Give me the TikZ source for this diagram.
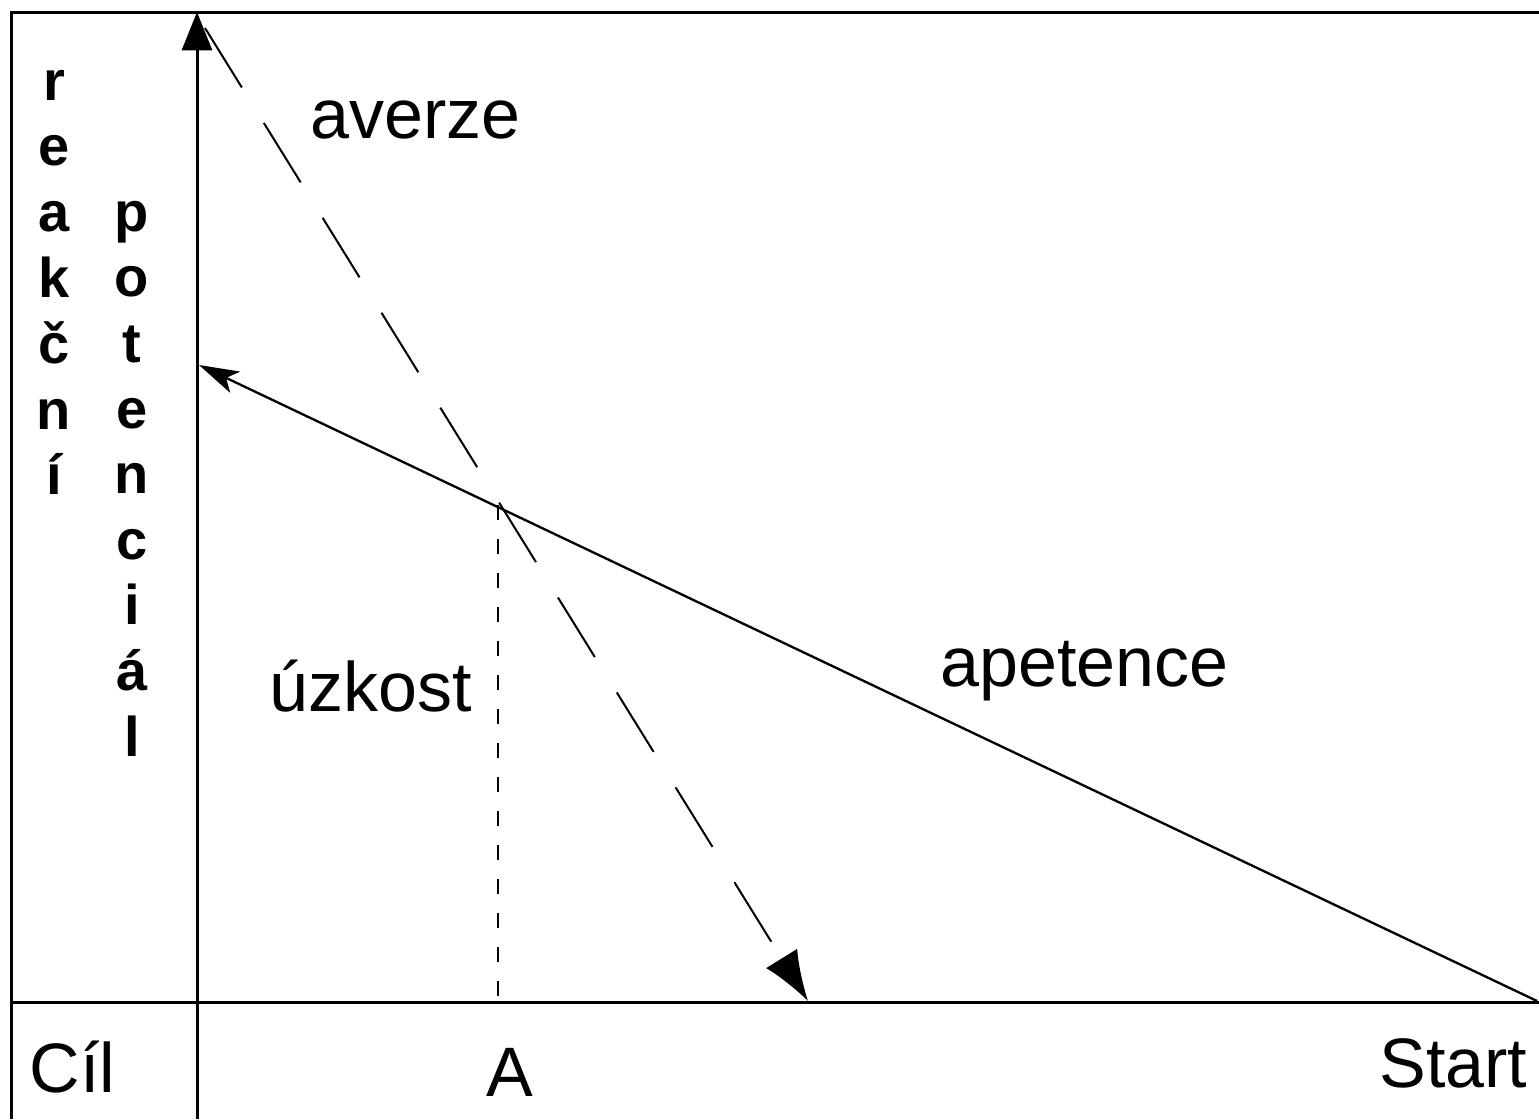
\documentclass[tikz,border=0pt]{standalone}
\usepackage{fontspec}
\setmainfont{Liberation Sans}
\usetikzlibrary{arrows.meta}
\begin{document}
\begin{tikzpicture}[x=0.3pt,y=-0.3pt,
  frameline/.style={line width=0.9pt,black},
  axisline/.style={line width=0.9pt,black},
  curveline/.style={line width=0.7pt,black},
  averzeline/.style={line width=0.6pt,black,dash pattern=on 21pt off 12.5pt},
  dropline/.style={line width=0.6pt,black,dash pattern=on 4.5pt off 5.7pt},
  lbl/.style={inner sep=0pt,font=\fontsize{21pt}{21pt}\selectfont},
  vlet/.style={inner sep=0pt,anchor=base,font=\fontsize{16.8pt}{16.8pt}\selectfont\bfseries}]
\useasboundingbox (0,0) rectangle (1539,1119);
% frame
\coordinate (FTL) at (11,12);
\coordinate (FTR) at (1539,12);
\coordinate (FBL) at (11,1119);
\draw[frameline] (FBL) -- (FTL) -- (FTR);
% axes
\coordinate (YB) at (197,1119);
\coordinate (YT) at (197,12);
\coordinate (XL) at (11,1002);
\coordinate (XR) at (1539,1002);
\draw[axisline] (XL) -- (XR);
\draw[axisline,-{Triangle[length=11.5pt,width=9pt]}] (YB) -- (YT);
% apetence
\coordinate (apS) at (1537,1001);
\coordinate (apE) at (199,365);
\draw[curveline,-{Stealth[length=12pt,width=7pt,inset=3pt]}] (apS) -- (apE);
% averze
\coordinate (avS) at (205,28);
\coordinate (avE) at (808,1001);
\draw[averzeline,-{Latex[length=15pt,width=11pt]}] (avS) -- (avE);
% drop line
\coordinate (I) at (498,505);
\coordinate (A0) at (498,1002);
\draw[dropline] (I) -- (A0);
% labels
\node[lbl,anchor=base west] (averze) at (310,138) {averze};
\node[lbl,anchor=base west] (apetence) at (940,686) {apetence};
\node[lbl,anchor=base west] (uzkost) at (269,711) {úzkost};
\node[lbl,anchor=base west] (cil) at (29,1092) {Cíl};
\node[lbl,anchor=base] (A) at (510,1096) {A};
\node[lbl,anchor=base east] (start) at (1528,1087) {Start};
% vertical words
\foreach \c [count=\i from 0] in {r,e,a,k,č,n,í}
  \node[vlet] (r\i) at (54,{100+65.8*\i}) {\c};
\foreach \c [count=\i from 2] in {p,o,t,e,n,c,i,á,l}
  \node[vlet] (p\i) at (132,{100+65.6*\i}) {\c};
\end{tikzpicture}
\end{document}
